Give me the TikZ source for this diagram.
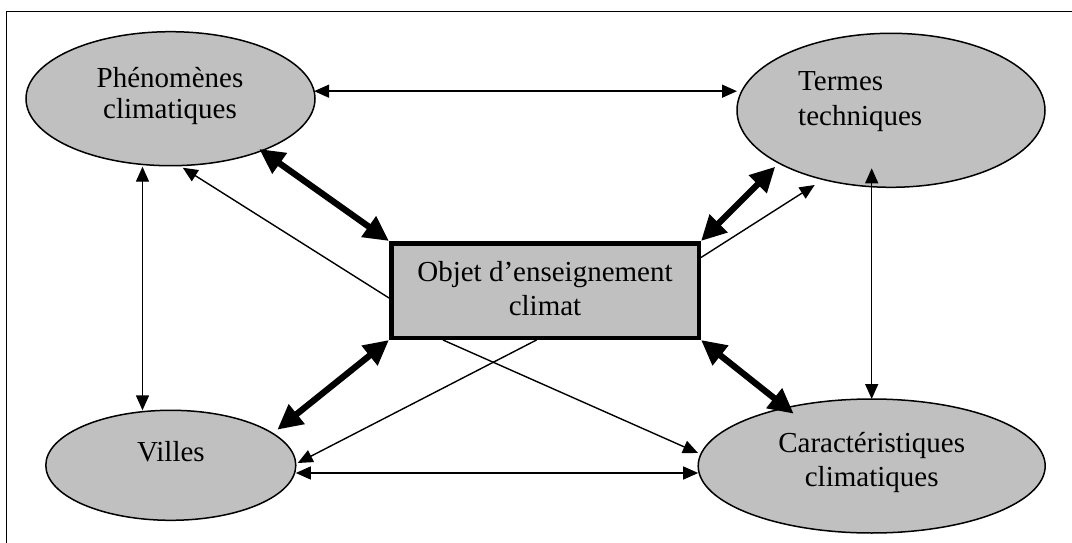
\documentclass[tikz,border=0pt]{standalone}
\usepackage{fontspec}
\setmainfont{Liberation Serif}
\usetikzlibrary{shapes.geometric,arrows.meta,calc}
\definecolor{boxgray}{HTML}{C0C0C0}
\begin{document}
\begin{tikzpicture}[x=1pt,y=-1pt,
  oval/.style={ellipse,draw,line width=1.5pt,fill=boxgray,inner sep=0pt,outer sep=0pt},
  lbl/.style={anchor=base,inner sep=0pt,font=\fontsize{29}{33}\selectfont},
  thinarr/.style={line width=1.4pt,{Triangle[length=15pt,width=13pt]}-{Triangle[length=15pt,width=13pt]}},
  thinone/.style={line width=1.4pt,-{Triangle[length=15pt,width=13pt]}},
  thickarr/.style={line width=6.3pt,{Triangle[length=25pt,width=24pt]}-{Triangle[length=25pt,width=24pt]}}]
\useasboundingbox (0,0) rectangle (1072,543);
\path[clip] (0,0) rectangle (1072,543);
\fill[white] (0,0) rectangle (1072,543);
% frame
\draw[line width=1.5pt] (6.7,570) -- (6.7,11.7) -- (1100,11.7);
% shapes
\node[oval,minimum width=289pt,minimum height=134pt] (phen) at (170.5,98.7) {};
\node[oval,minimum width=308pt,minimum height=154pt] (termes) at (891,110.3) {};
\node[oval,minimum width=250pt,minimum height=110pt] (villes) at (170.8,465.3) {};
\node[oval,minimum width=347pt,minimum height=134pt] (caract) at (871.7,466) {};
\node[draw,line width=4.5pt,fill=boxgray,minimum width=307.5pt,minimum height=94.5pt,inner sep=0pt,outer sep=2.25pt] (obj) at (545,290.5) {};
% texts
\node[lbl] (phenA) at (170,87.3) {Phénomènes};
\node[lbl] (phenB) at (170,118.3) {climatiques};
\node[lbl,anchor=base west] (termA) at (798,90.7) {Termes};
\node[lbl,anchor=base west] (termB) at (798,125) {techniques};
\node[lbl] (villesA) at (171,461.3) {Villes};
\node[lbl] (carA) at (871.7,452.3) {Caractéristiques};
\node[lbl] (carB) at (871.7,486.3) {climatiques};
\node[lbl] (objA) at (545,281.7) {Objet d’enseignement};
\node[lbl] (objB) at (545,315) {climat};
% thin double arrows
\draw[thinarr] (phen.3.8) -- (phen.3.8 -| termes.west);
\coordinate (pb) at ([xshift=-28pt,yshift=-1pt]phen.south);
\draw[thinarr] (pb) -- (pb |- villes.north);
\draw[thinarr] (caract.north) -- ([yshift=19pt]caract.north |- termes.south);
\coordinate (vd) at ([yshift=-7.7pt]villes.east);
\draw[thinarr] (vd) -- (vd -| caract.west);
% thick double arrows
\draw[thickarr] ($(phen.center)+(88.8,50.3)$) -- (obj.north west);
\draw[thickarr] (obj.north east) -- ($(termes.center)+(-115.7,56.4)$);
\draw[thickarr] ($(villes.center)+(106.5,-35.6)$) -- (obj.south west);
\draw[thickarr] (obj.south east) -- ($(caract.center)+(-78,-52.3)$);
% thin single arrows
\draw[thinone] ([yshift=-7.5pt]obj.west) -- ($(phen.south)+(12.2,2)$);
\draw[thinone] ([yshift=33pt]obj.east) -- ($(termes.south)+(-76.3,-2.3)$);
\draw[thinone] ([xshift=-8.5pt]obj.south) -- ($(villes.center)+(126.9,-2.3)$);
\draw[thinone] ([xshift=-102pt]obj.south) -- ($(caract.center)+(-173.7,-13)$);
\end{tikzpicture}
\end{document}
